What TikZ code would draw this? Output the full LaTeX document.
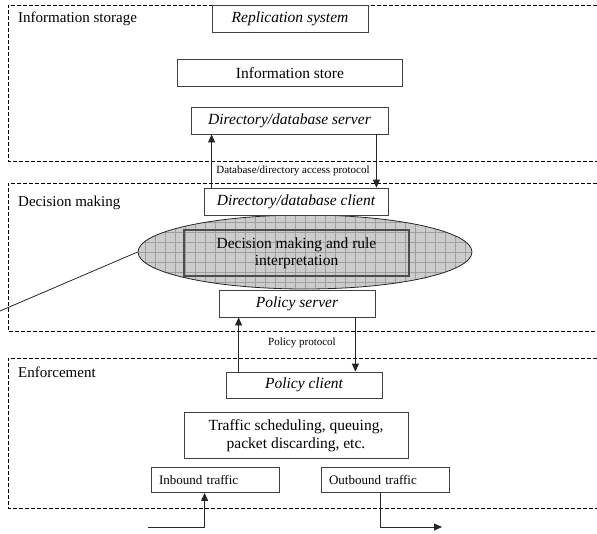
\documentclass[tikz,border=0pt]{standalone}
\usepackage{fontspec}
\setmainfont{Liberation Serif}
\usetikzlibrary{arrows.meta,shapes.geometric}

\begin{document}
\begin{tikzpicture}[x=1pt,y=-1pt,
 zone/.style={draw=black,line width=.8pt,dash pattern=on 4pt off 2pt},
 zlbl/.style={anchor=west,inner sep=0pt,font=\fontsize{15}{17}\selectfont},
 box/.style={draw=black!75,fill=white,line width=.8pt,minimum height=27pt,inner sep=0pt,align=center,font=\fontsize{15.5}{18}\selectfont},
 ibox/.style={box,font=\fontsize{15.5}{18}\selectfont\itshape},
 tbox/.style={draw=black!75,line width=.8pt,minimum height=25pt,text width=112pt,align=left,inner xsep=8pt,inner ysep=0pt,font=\fontsize{13}{15}\selectfont},
 proto/.style={inner sep=0pt,font=\fontsize{11}{13}\selectfont},
 hatch/.style={path picture={\draw[gray!75,line width=.6pt,step=10pt] (path picture bounding box.south west) grid (path picture bounding box.north east);}},
 a/.style={-{Triangle[length=8pt,width=7pt]},draw=black!85,line width=.8pt}]
\useasboundingbox (0,0) rectangle (597,533);
% the three layers
\draw[zone] (597,5) -- (8,5) -- (8,161) -- (597,161);
\draw[zone] (597,183) -- (8,183) -- (8,331) -- (597,331);
\draw[zone] (597,358) -- (8,358) -- (8,508) -- (597,508);
\node[zlbl] (storage) at (18,19) {Information storage};
\node[zlbl] (decision) at (18,203) {Decision making};
\node[zlbl] (enforce) at (18,372) {Enforcement};
% information storage
\node[ibox,minimum width=156pt] (repl) at (290,19) {Replication system};
\node[box,minimum width=225pt] (store) at (290,73) {Information store};
\node[ibox,minimum width=197pt] (dserver) at (289.5,120.5) {Directory/database server};
% decision making
\node[ellipse,draw=black!85,line width=.8pt,fill=gray!40,hatch,minimum width=334pt,minimum height=74pt,inner sep=0pt] (ell) at (305,252) {};
\node[draw=black!70,line width=1.4pt,minimum width=225pt,minimum height=46pt,inner sep=0pt,align=center,font=\fontsize{15.5}{17}\selectfont] (rule) at (296.5,253) {Decision making and rule\\interpretation};
\node[ibox,minimum width=184pt] (dclient) at (296,201.5) {Directory/database client};
\node[ibox,minimum width=156pt] (pserver) at (297,303.5) {Policy server};
\coordinate (lfoot) at (0,311);
\draw[black!85,line width=.8pt] (lfoot) -- (ell.west);
% enforcement
\node[ibox,minimum width=156pt,minimum height=26pt] (pclient) at (304,385) {Policy client};
\node[box,minimum width=224pt,minimum height=46pt] (sched) at (296,435.5) {Traffic scheduling, queuing,\\packet discarding, etc.};
\node[tbox] (inb) at (215,480) {Inbound traffic};
\node[tbox] (outb) at (385,480) {Outbound traffic};
% protocols
\draw[a] ([xshift=8pt]dclient.north west) -- ([xshift=8pt]dclient.north west |- dserver.south);
\draw[a] ([xshift=-12pt]dserver.south east) -- ([xshift=-12pt]dserver.south east |- dclient.north);
\node[proto] (dbproto) at (293,171) {Database/directory access protocol};
\draw[a] ([xshift=13pt]pclient.north west) -- ([xshift=13pt]pclient.north west |- pserver.south);
\draw[a] ([xshift=-20pt]pserver.south east) -- ([xshift=-20pt]pserver.south east |- pclient.north);
\node[proto] (pproto) at (302,343) {Policy protocol};
% traffic in and out
\coordinate (inA) at (148,527);
\coordinate (outB) at (442,527);
\draw[a] (inA) -| ([xshift=54pt]inb.south west);
\draw[a] ([xshift=60pt]outb.south west) |- (outB);
\end{tikzpicture}
\end{document}
